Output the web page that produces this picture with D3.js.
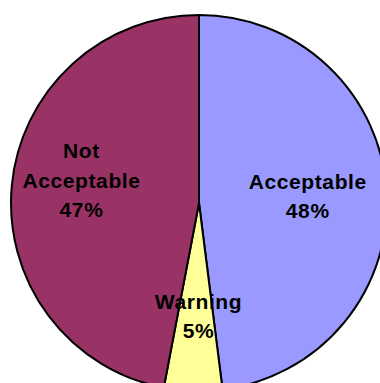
<!DOCTYPE html>
<html>
<head>
<meta charset="utf-8">
<script src="https://cdn.jsdelivr.net/npm/d3@7"></script>
<style>
  html, body { margin: 0; padding: 0; background: #fff; }
  svg { display: block; }
</style>
</head>
<body>
<svg id="chart" width="380" height="383"></svg>
<script>
// pie of status shares, Excel-style colours, starts at 12 o'clock, clockwise
const categories = ['Acceptable', 'Warning', 'Not Acceptable'];
const shares = [48, 5, 47];
const labelLines = [['Acceptable', '48%'], ['Warning', '5%'], ['Not', 'Acceptable', '47%']];
const colors = ['#9999ff', '#ffff99', '#993366'];

const W = 380, H = 383;
const cx = 199, cy = 203, R = 188;
// small manual nudges to sit labels where Excel put them
const nudge = [[-3, 0], [3, 1], [-6, -12]];

const svg = d3.select('#chart');
const g = svg.append('g').attr('transform', `translate(${cx},${cy})`);

const pie = d3.pie().sort(null).value(d => d)(shares);
const arc = d3.arc().innerRadius(0).outerRadius(R);
const labelArc = d3.arc().innerRadius(224).outerRadius(0); // centroid at r=112

const color = d3.scaleOrdinal().domain(categories).range(colors);

g.selectAll('path.slice').data(pie).join('path')
  .attr('class', 'slice')
  .attr('d', arc)
  .attr('fill', (d, i) => color(categories[i]))
  .attr('stroke', '#000')
  .attr('stroke-width', 2)
  .attr('stroke-linejoin', 'round');

const lineH = 29.5, capH = 15;
g.selectAll('text.lbl').data(pie).join('text')
  .attr('class', 'lbl')
  .attr('font-family', '"Liberation Sans", Arial, sans-serif')
  .attr('font-weight', 'bold')
  .attr('font-size', 21)
  .attr('letter-spacing', 0.6)
  .attr('text-anchor', 'middle')
  .attr('fill', '#000')
  .each(function (d, i) {
    const [x0, y] = labelArc.centroid(d);
    const x = x0 + nudge[i][0];
    const lines = labelLines[i];
    const y0 = y + nudge[i][1] - ((lines.length - 1) * lineH + capH) / 2 + capH;
    d3.select(this).selectAll('tspan').data(lines).join('tspan')
      .attr('x', x)
      .attr('y', (t, k) => y0 + k * lineH)
      .text(t => t);
  });
</script>
</body>
</html>
